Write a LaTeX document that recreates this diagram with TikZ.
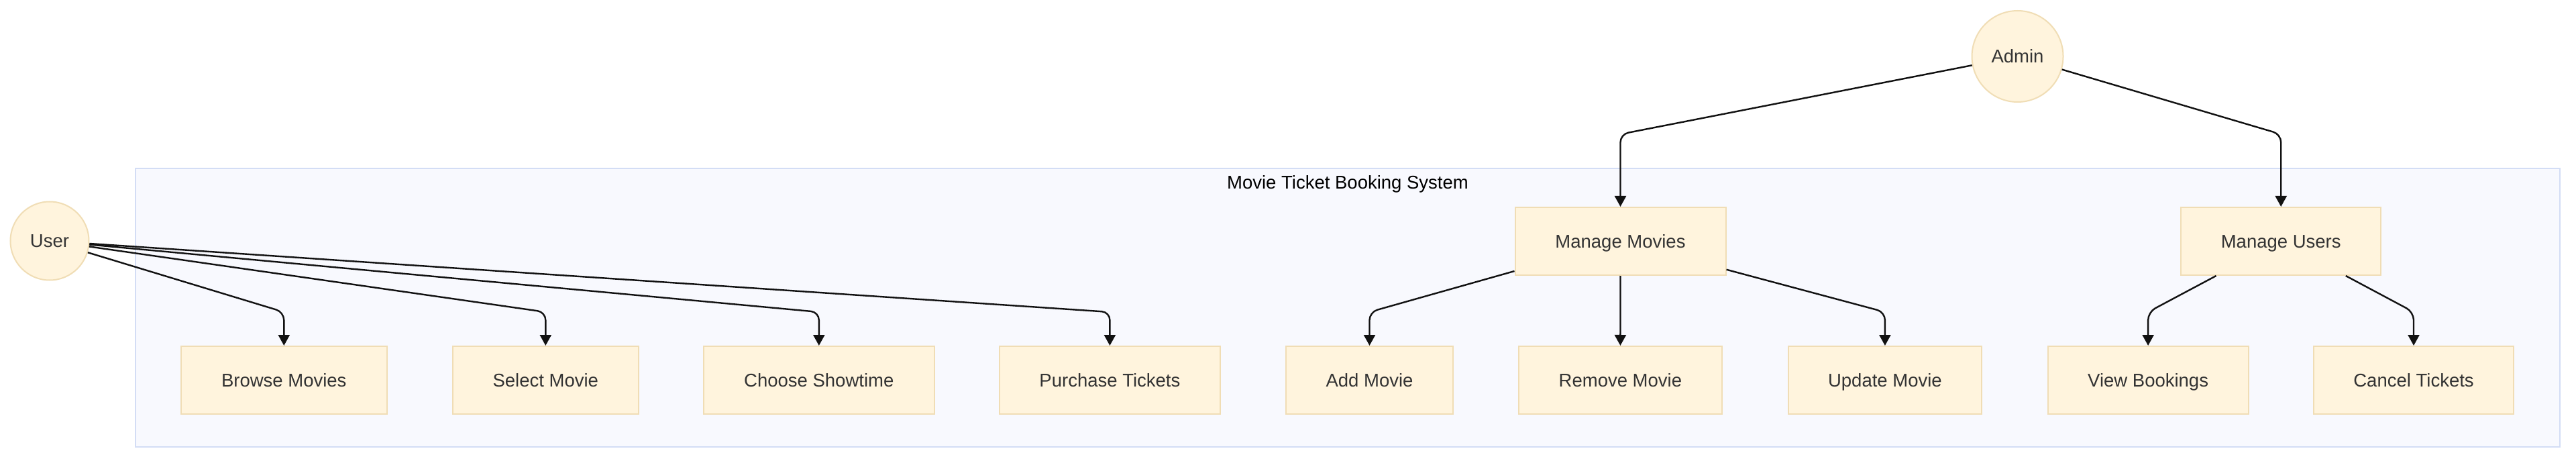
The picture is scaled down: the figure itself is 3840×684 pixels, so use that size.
\documentclass[tikz,border=0pt]{standalone}
\usepackage{fontspec}
\setmainfont{Liberation Sans}
\usetikzlibrary{arrows.meta}
\definecolor{nodefill}{HTML}{FFF4DD}
\definecolor{nodestroke}{HTML}{F0DDB5}
\definecolor{clusterfill}{HTML}{F8F9FE}
\definecolor{clusterstroke}{HTML}{D3DDF5}
\definecolor{txt}{HTML}{333333}
\definecolor{edgecol}{HTML}{111111}
\tikzset{
  lbl/.style={font=\fontsize{27.5}{33}\selectfont, text height=19.7pt, text depth=0pt},
  box/.style={lbl, draw=nodestroke, fill=nodefill, line width=2pt, rectangle, inner sep=0pt,
    minimum height=101pt, text=txt},
  actor/.style={lbl, draw=nodestroke, fill=nodefill, line width=2pt, circle, inner sep=0pt,
    text=txt},
  edge/.style={draw=edgecol, line width=2.4pt, rounded corners=12pt,
    -{Triangle[width=17pt,length=16pt]}},
  plainedge/.style={draw=edgecol, line width=2.4pt, -{Triangle[width=17pt,length=16pt]}},
  cluster/.style={draw=clusterstroke, fill=clusterfill, line width=2pt},
}
\begin{document}
\begin{tikzpicture}[x=1pt,y=-1pt]
\useasboundingbox (0,0) rectangle (3840,684);
\fill[white] (0,0) rectangle (3840,684);
% cluster
\draw[cluster] (201.5,251) rectangle (3816,666);
\node[lbl, text=black, inner sep=0pt] (title) at (2009,271.3) {Movie Ticket Booking System};
% actors
\node[actor, minimum size=117pt] (user) at (74,359) {User};
\node[actor, minimum size=136pt] (admin) at (3007.5,84) {Admin};
% boxes
\node[box, minimum width=306.5pt] (browse) at (423.3,566.5) {Browse Movies};
\node[box, minimum width=276.5pt] (select) at (813.3,566.5) {Select Movie};
\node[box, minimum width=343.6pt] (choose) at (1220.8,566.5) {Choose Showtime};
\node[box, minimum width=329pt] (purchase) at (1654.4,566.5) {Purchase Tickets};
\node[box, minimum width=249.5pt] (add) at (2041.5,566.5) {Add Movie};
\node[box, minimum width=303pt] (remove) at (2415.4,566.5) {Remove Movie};
\node[box, minimum width=288.7pt] (update) at (2809.9,566.5) {Update Movie};
\node[box, minimum width=299pt] (view) at (3202.1,566.5) {View Bookings};
\node[box, minimum width=298pt] (cancel) at (3598,566.5) {Cancel Tickets};
\node[box, minimum width=314pt] (mmovies) at (2415.5,359.5) {Manage Movies};
\node[box, minimum width=298.4pt] (musers) at (3400.2,359.5) {Manage Users};
% bend levels
\coordinate (lowbend) at (0,465);
\coordinate (highbend) at (0,200);
% edges
\draw[edge] (user) -- (browse.north |- lowbend) -- (browse.north);
\draw[edge] (user) -- (select.north |- lowbend) -- (select.north);
\draw[edge] (user) -- (choose.north |- lowbend) -- (choose.north);
\draw[edge] (user) -- (purchase.north |- lowbend) -- (purchase.north);
\draw[edge] (admin) -- (mmovies.north |- highbend) -- (mmovies.north);
\draw[edge] (admin) -- (musers.north |- highbend) -- (musers.north);
\draw[edge] (mmovies) -- (add.north |- lowbend) -- (add.north);
\draw[plainedge] (mmovies.south) -- (remove.north);
\draw[edge] (mmovies) -- (update.north |- lowbend) -- (update.north);
\draw[edge] (musers) -- (view.north |- lowbend) -- (view.north);
\draw[edge] (musers) -- (cancel.north |- lowbend) -- (cancel.north);
\end{tikzpicture}
\end{document}
